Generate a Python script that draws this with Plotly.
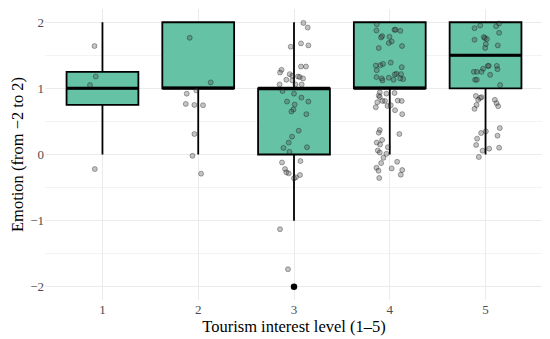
import plotly.graph_objects as go

# ---- data ----
levels = [1, 2, 3, 4, 5]
q1 = [0.75, 1, 0, 1, 1]
median = [1, 1, 1, 1, 1.5]
q3 = [1.25, 2, 1, 2, 2]
lower_whisker = [0, 0, -1, 0, 0]
upper_whisker = [2, 2, 2, 2, 2]

outlier_x = [3]
outlier_y = [-2]

g1_x = [0.917, 0.93, 0.87, 0.92]
g1_y = [1.64, 1.18, 1.05, -0.22]

g2_x = [1.911, 2.13, 1.88, 1.98, 1.87, 1.96, 2.05, 1.96, 1.94, 2.03]
g2_y = [1.765, 1.09, 0.92, 0.97, 0.765, 0.75, 0.745, 0.31, -0.02, -0.29]

g3_x = [3.098, 3.143, 2.966, 3.073, 3.15, 3.073, 3.125, 2.87, 2.854, 2.955,
        2.983, 3.042, 3.06, 2.92, 2.983, 3.094, 2.85, 3.015, 3.08, 2.88,
        3.0, 3.077, 2.927, 3.15, 3.007, 2.994, 2.973, 3.129, 3.049, 2.98,
        2.945, 2.89, 3.136, 2.952, 2.875, 3.067, 2.906, 2.92, 2.945, 3.063,
        3.0, 3.02, 2.854, 2.937]
g3_y = [1.99, 1.92, 1.63, 1.68, 1.65, 1.33, 1.33, 1.28, 1.24, 1.215,
        1.19, 1.18, 1.17, 1.13, 1.12, 1.15, 1.06, 1.06, 1.06, 0.96,
        0.92, 0.86, 0.80, 0.80, 0.755, 0.68, 0.65, 0.61, 0.36, 0.27,
        0.18, 0.10, 0.11, 0.04, -0.12, -0.10, -0.22, -0.27, -0.285, -0.31,
        -0.36, -0.345, -1.13, -1.735]

g4_x = [3.864, 3.861, 4.049, 4.06, 4.11, 3.92, 3.909, 3.997, 4.02, 3.99,
        4.128, 3.885, 4.01, 3.854, 3.903, 3.93, 3.864, 4.125, 4.07, 4.052,
        4.118, 3.861, 3.916, 3.924, 3.99, 4.04, 4.11, 4.14,
        3.896, 3.885, 3.896, 3.965, 4.05, 3.87, 3.924, 3.95, 4.083, 4.125,
        3.976, 4.01, 3.854, 4.055, 4.13, 3.896, 3.885, 4.10, 3.92, 3.864,
        3.899, 3.98, 3.875, 3.896, 3.965, 3.934, 3.91, 4.077, 3.861, 3.882,
        4.02, 4.13, 4.115, 3.89]
g4_y = [1.97, 1.875, 1.886, 1.886, 1.87, 1.79, 1.77, 1.78, 1.71, 1.685,
        1.64, 1.61, 1.39, 1.345, 1.35, 1.37, 1.275, 1.32, 1.22, 1.21,
        1.215, 1.17, 1.15, 1.12, 1.16, 1.13, 1.15, 1.14,
        0.94, 0.89, 0.87, 0.92, 0.93, 0.79, 0.81, 0.81, 0.815, 0.81,
        0.735, 0.745, 0.715, 0.67, 0.61, 0.37, 0.33, 0.31, 0.22, 0.18,
        0.15, 0.11, 0.06, 0.03, 0.01, -0.05, -0.13, -0.11, -0.2, -0.245,
        -0.21, -0.235, -0.305, -0.355]

g5_x = [5.142, 5.11, 4.944, 4.885, 5.142, 4.982, 4.993, 5.014, 4.885, 5.003,
        5.128, 4.996, 5.024, 5.034, 5.118, 5.125, 4.975, 4.878, 4.909, 4.958,
        5.048, 4.891, 4.909, 5.152,
        4.899, 4.923, 4.944, 4.958, 5.097, 5.115, 5.132, 4.906, 4.885, 5.149,
        4.954, 5.003, 5.125, 4.912, 4.902, 5.142, 5.038, 4.969, 4.93]
g5_y = [1.98, 1.94, 1.95, 1.91, 1.84, 1.775, 1.76, 1.745, 1.735, 1.67,
        1.65, 1.61, 1.34, 1.34, 1.34, 1.29, 1.295, 1.25, 1.25, 1.25,
        1.205, 1.13, 1.13, 1.05,
        0.886, 0.826, 0.856, 0.867, 0.826, 0.776, 0.73, 0.75, 0.69, 0.40,
        0.325, 0.35, 0.285, 0.24, 0.144, 0.103, 0.088, 0.058, -0.038]

y_ticks = [-2, -1, 0, 1, 2]

FONT = "Liberation Serif"
BOX_FILL = "#66C2A5"
BOX_WIDTH = 0.75

fig = go.Figure()

fig.add_trace(go.Box(
    x=levels, q1=q1, median=median, q3=q3,
    lowerfence=lower_whisker, upperfence=upper_whisker,
    width=BOX_WIDTH, whiskerwidth=0, fillcolor=BOX_FILL,
    line=dict(color="black", width=1.8),
    boxpoints=False, showlegend=False, hoverinfo="skip",
))

# thicker median bars (ggplot style), derived from the median array
med_x, med_y = [], []
for lv, m in zip(levels, median):
    med_x += [lv - BOX_WIDTH / 2, lv + BOX_WIDTH / 2, None]
    med_y += [m, m, None]
fig.add_trace(go.Scatter(
    x=med_x, y=med_y, mode="lines",
    line=dict(color="black", width=3), showlegend=False, hoverinfo="skip",
))

all_x = g1_x + g2_x + g3_x + g4_x + g5_x
all_y = g1_y + g2_y + g3_y + g4_y + g5_y
fig.add_trace(go.Scatter(
    x=all_x, y=all_y, mode="markers",
    marker=dict(size=5, color="rgba(70,70,70,0.32)",
                line=dict(color="rgba(0,0,0,0.4)", width=0.8)),
    showlegend=False,
))

fig.add_trace(go.Scatter(
    x=outlier_x, y=outlier_y, mode="markers",
    marker=dict(size=6.5, color="black"),
    showlegend=False,
))

# page body has an 8px default margin: compensate in size/margins
fig.update_layout(
    width=542, height=331,
    margin=dict(l=37, r=7, t=1, b=39),
    paper_bgcolor="white", plot_bgcolor="white",
    font=dict(family=FONT, color="#333333", size=13),
)
fig.update_xaxes(
    range=[0.4, 5.6], tickvals=levels, ticktext=[str(v) for v in levels],
    showgrid=True, gridcolor="#EBEBEB", gridwidth=1, zeroline=False,
    ticks="", showline=False,
    title=dict(text="Tourism interest level (1–5)",
               font=dict(family=FONT, size=16.5, color="black"), standoff=2),
    tickfont=dict(family=FONT, size=13, color="#4D4D4D"),
)
fig.update_yaxes(
    range=[-2.2, 2.2], tickvals=y_ticks,
    showgrid=True, gridcolor="#EBEBEB", gridwidth=1, zeroline=False,
    minor=dict(dtick=0.5, tick0=0.5, showgrid=True, gridcolor="#F3F3F3", gridwidth=1),
    ticks="", showline=False,
    title=dict(text="Emotion (from −2 to 2)",
               font=dict(family=FONT, size=16.5, color="black"), standoff=7),
    tickfont=dict(family=FONT, size=13, color="#4D4D4D"),
)

fig.write_html("out.html")
